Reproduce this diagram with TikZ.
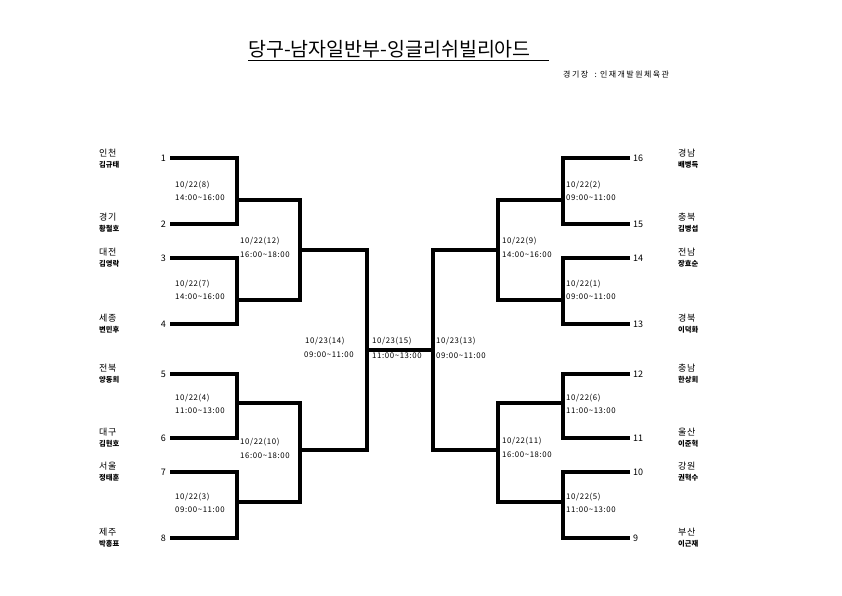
\documentclass[tikz,border=0pt]{standalone}
\usepackage{fontspec}
\setmainfont{Noto Sans CJK KR}
\newcommand{\til}{\textasciitilde}
\begin{document}
\begin{tikzpicture}[x=1pt,y=-1pt,
	bk/.style={line width=3.6pt,line join=miter},
	area/.style={anchor=west,inner sep=0pt,font=\fontsize{9}{9}\selectfont\addfontfeature{LetterSpace=8}},
	player/.style={anchor=west,inner sep=0pt,font=\fontsize{7.3}{7.3}\selectfont\bfseries},
	seedl/.style={anchor=east,inner sep=0pt,font=\fontsize{9}{9}\selectfont},
	seedr/.style={anchor=west,inner sep=0pt,font=\fontsize{9}{9}\selectfont},
	info/.style={anchor=west,inner sep=0pt,font=\fontsize{7.8}{7.8}\selectfont\addfontfeature{LetterSpace=8}}]
	\useasboundingbox (0,0) rectangle (842,595);
	% title
	\node[anchor=west,inner sep=0pt,font=\fontsize{19.5}{19.5}\selectfont] (title) at (248,49) {당구-남자일반부-잉글리쉬빌리아드};
	\draw[line width=0.9pt] ([yshift=-2pt]title.south west) -- ([xshift=18pt,yshift=-2pt]title.south east);
	\node[anchor=west,inner sep=0pt,font=\fontsize{8}{8}\selectfont\addfontfeature{LetterSpace=18}] (venue) at (563,74) {경기장 \ :\ 인재개발원체육관};
	% left seeds
	\node[area] (a1) at (99,153) {인천};
	\node[player] (p1) at (99,165) {김규태};
	\node[seedl] (n1) at (166,158) {1};
	\node[area] (a2) at (99,217) {경기};
	\node[player] (p2) at (99,229) {황철호};
	\node[seedl] (n2) at (166,224) {2};
	\node[area] (a3) at (99,252) {대전};
	\node[player] (p3) at (99,264) {김영락};
	\node[seedl] (n3) at (166,258) {3};
	\node[area] (a4) at (99,318) {세종};
	\node[player] (p4) at (99,330) {변민후};
	\node[seedl] (n4) at (166,324) {4};
	\node[area] (a5) at (99,368) {전북};
	\node[player] (p5) at (99,380) {양동희};
	\node[seedl] (n5) at (166,374) {5};
	\node[area] (a6) at (99,432) {대구};
	\node[player] (p6) at (99,444) {김현호};
	\node[seedl] (n6) at (166,438) {6};
	\node[area] (a7) at (99,466) {서울};
	\node[player] (p7) at (99,478) {정태훈};
	\node[seedl] (n7) at (166,472) {7};
	\node[area] (a8) at (99,532) {제주};
	\node[player] (p8) at (99,544) {박흥표};
	\node[seedl] (n8) at (166,538) {8};
	% right seeds
	\node[area] (a16) at (678,153) {경남};
	\node[player] (p16) at (678,165) {배병득};
	\node[seedr] (n16) at (633,158) {16};
	\node[area] (a15) at (678,217) {충북};
	\node[player] (p15) at (678,229) {김병섭};
	\node[seedr] (n15) at (633,224) {15};
	\node[area] (a14) at (678,252) {전남};
	\node[player] (p14) at (678,264) {장효순};
	\node[seedr] (n14) at (633,258) {14};
	\node[area] (a13) at (678,318) {경북};
	\node[player] (p13) at (678,330) {이덕화};
	\node[seedr] (n13) at (633,324) {13};
	\node[area] (a12) at (678,368) {충남};
	\node[player] (p12) at (678,380) {한상회};
	\node[seedr] (n12) at (633,374) {12};
	\node[area] (a11) at (678,432) {울산};
	\node[player] (p11) at (678,444) {이준혁};
	\node[seedr] (n11) at (633,438) {11};
	\node[area] (a10) at (678,466) {강원};
	\node[player] (p10) at (678,478) {권혁수};
	\node[seedr] (n10) at (633,472) {10};
	\node[area] (a9) at (678,532) {부산};
	\node[player] (p9) at (678,544) {이근재};
	\node[seedr] (n9) at (633,538) {9};
	% line ends and junctions
	\coordinate (L1) at (170,158);
	\coordinate (L2) at (170,224);
	\coordinate (L3) at (170,258);
	\coordinate (L4) at (170,324);
	\coordinate (L5) at (170,374);
	\coordinate (L6) at (170,438);
	\coordinate (L7) at (170,472);
	\coordinate (L8) at (170,538);
	\coordinate (R16) at (630,158);
	\coordinate (R15) at (630,224);
	\coordinate (R14) at (630,258);
	\coordinate (R13) at (630,324);
	\coordinate (R12) at (630,374);
	\coordinate (R11) at (630,438);
	\coordinate (R10) at (630,472);
	\coordinate (R9) at (630,538);
	\coordinate (m8) at (237,200);
	\coordinate (m7) at (237,300);
	\coordinate (m4) at (237,403);
	\coordinate (m3) at (237,502);
	\coordinate (m12) at (300,250);
	\coordinate (m10) at (300,450);
	\coordinate (m14) at (367,350);
	\coordinate (m13) at (433,350);
	\coordinate (m2) at (563,200);
	\coordinate (m1) at (563,300);
	\coordinate (m6) at (563,403);
	\coordinate (m5) at (563,502);
	\coordinate (m9) at (498,250);
	\coordinate (m11) at (498,450);
	% bracket
	\draw[bk] (L1) -| (m8) |- (L2);
	\draw[bk] (L3) -| (m7) |- (L4);
	\draw[bk] (L5) -| (m4) |- (L6);
	\draw[bk] (L7) -| (m3) |- (L8);
	\draw[bk] (m8) -| (m12) |- (m7);
	\draw[bk] (m4) -| (m10) |- (m3);
	\draw[bk] (m12) -| (m14) |- (m10);
	\draw[bk] (m14) -- (m13);
	\draw[bk] (m9) -| (m13) |- (m11);
	\draw[bk] (m2) -| (m9) |- (m1);
	\draw[bk] (m6) -| (m11) |- (m5);
	\draw[bk] (R16) -| (m2) |- (R15);
	\draw[bk] (R14) -| (m1) |- (R13);
	\draw[bk] (R12) -| (m6) |- (R11);
	\draw[bk] (R10) -| (m5) |- (R9);
	% match times
	\node[info] (d8) at (175,185) {10/22(8)};
	\node[info] (t8) at (175,198) {14:00\til16:00};
	\node[info] (d7) at (175,284) {10/22(7)};
	\node[info] (t7) at (175,297) {14:00\til16:00};
	\node[info] (d4) at (175,398) {10/22(4)};
	\node[info] (t4) at (175,411) {11:00\til13:00};
	\node[info] (d3) at (175,497) {10/22(3)};
	\node[info] (t3) at (175,510) {09:00\til11:00};
	\node[info] (d12) at (240,241) {10/22(12)};
	\node[info] (t12) at (240,255) {16:00\til18:00};
	\node[info] (d10) at (240,442) {10/22(10)};
	\node[info] (t10) at (240,456) {16:00\til18:00};
	\node[info] (d14) at (305,341) {10/23(14)};
	\node[info] (t14) at (304,355) {09:00\til11:00};
	\node[info] (d15) at (372,341) {10/23(15)};
	\node[info] (t15) at (372,356) {11:00\til13:00};
	\node[info] (d13) at (436,341) {10/23(13)};
	\node[info] (t13) at (436,356) {09:00\til11:00};
	\node[info] (d9) at (502,241) {10/22(9)};
	\node[info] (t9) at (502,255) {14:00\til16:00};
	\node[info] (d11) at (502,441) {10/22(11)};
	\node[info] (t11) at (502,455) {16:00\til18:00};
	\node[info] (d2) at (566,185) {10/22(2)};
	\node[info] (t2) at (566,198) {09:00\til11:00};
	\node[info] (d1) at (566,284) {10/22(1)};
	\node[info] (t1) at (566,297) {09:00\til11:00};
	\node[info] (d6) at (566,398) {10/22(6)};
	\node[info] (t6) at (566,411) {11:00\til13:00};
	\node[info] (d5) at (566,497) {10/22(5)};
	\node[info] (t5) at (566,510) {11:00\til13:00};
\end{tikzpicture}
\end{document}
